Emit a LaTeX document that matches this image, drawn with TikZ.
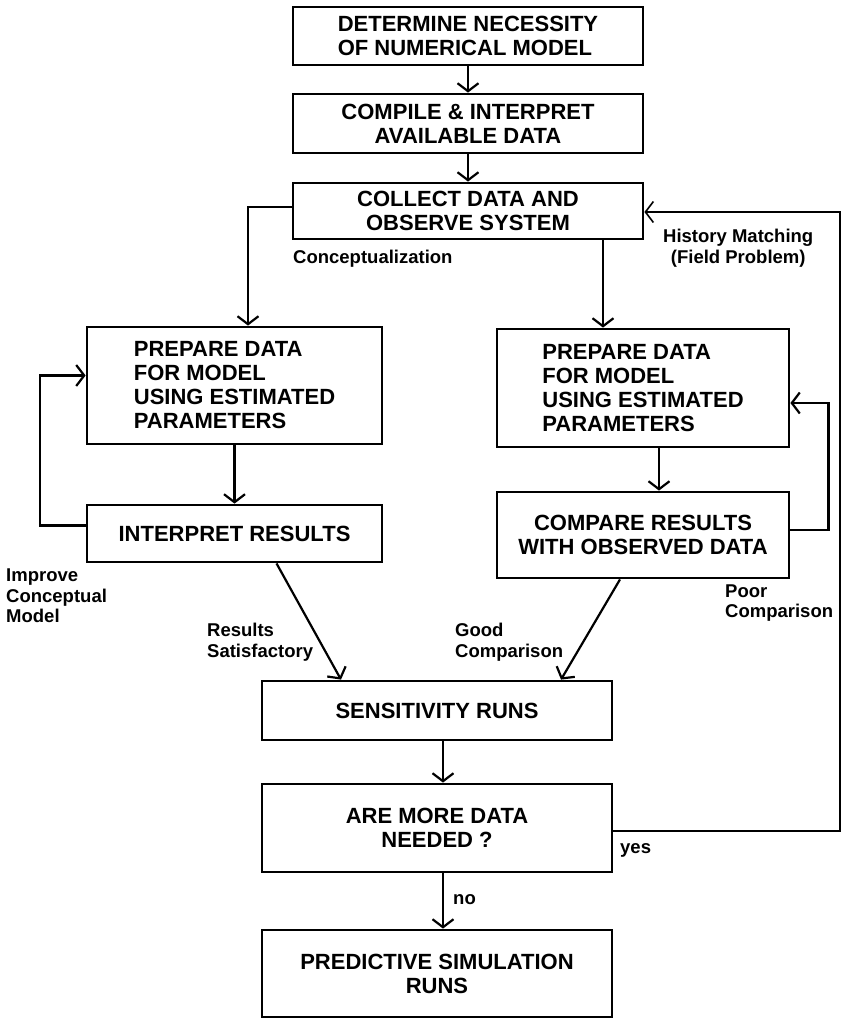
\documentclass[tikz,border=0pt]{standalone}
\usepackage{fontspec}
\setmainfont{Liberation Sans}
\usetikzlibrary{arrows.meta, positioning}

\begin{document}
\begin{tikzpicture}[x=1pt, y=-1pt,
  box/.style={draw, line width=2.8pt, inner sep=0pt, font=\bfseries\fontsize{22}{24}\selectfont},
  lbl/.style={inner sep=0pt, anchor=west, align=left, font=\bfseries\fontsize{18.5}{20.5}\selectfont},
  arr/.style={line width=2.2pt, -{Straight Barb[length=8pt, width=21pt]}}]
  \useasboundingbox (0,0) rectangle (842,1019);

  % main column
  \node[box, minimum width=350pt, minimum height=58pt, align=left] (need) at (468,36) {DETERMINE NECESSITY\\OF NUMERICAL MODEL};
  \node[box, minimum width=350pt, minimum height=59pt, align=center] (compile) at (468,123.5) {COMPILE \& INTERPRET\\AVAILABLE DATA};
  \node[box, minimum width=350pt, minimum height=56pt, align=center] (collect) at (468,211) {COLLECT DATA AND\\OBSERVE SYSTEM};

  % left branch
  \node[box, minimum width=295pt, minimum height=117pt, align=left] (prepL) at (234.5,385.5) {PREPARE DATA\\FOR MODEL\\USING ESTIMATED\\PARAMETERS};
  \node[box, minimum width=295pt, minimum height=57pt] (interp) at (234.5,533.5) {INTERPRET RESULTS};

  % right branch
  \node[box, minimum width=292pt, minimum height=118pt, align=left] (prepR) at (643,388) {PREPARE DATA\\FOR MODEL\\USING ESTIMATED\\PARAMETERS};
  \node[box, minimum width=292pt, minimum height=86pt, align=center] (compare) at (643,535) {COMPARE RESULTS\\WITH OBSERVED DATA};

  % bottom column
  \node[box, minimum width=350pt, minimum height=59pt] (sens) at (437,710.5) {SENSITIVITY RUNS};
  \node[box, minimum width=350pt, minimum height=88pt, align=center] (more) at (437,828) {ARE MORE DATA\\NEEDED ?};
  \node[box, minimum width=350pt, minimum height=87pt, align=center] (predict) at (437,973.5) {PREDICTIVE SIMULATION\\RUNS};

  % labels
  \node[lbl] (concept) at (293,259) {Conceptualization};
  \node[lbl, align=center] (history) at (663,248) {History Matching\\(Field Problem)};
  \node[lbl] (improve) at (6,596) {Improve\\Conceptual\\Model};
  \node[lbl] (satis) at (207,642) {Results\\Satisfactory};
  \node[lbl] (good) at (455,642) {Good\\Comparison};
  \node[lbl] (poor) at (725,603) {Poor\\Comparison};
  \node[lbl] (yes) at (620,850) {yes};
  \node[lbl] (no) at (453,900) {no};

  % connectors
  \draw[arr] (need) -- (compile);
  \draw[arr] (compile) -- (collect);
  \draw[arr] ([yshift=4pt]collect.west) -| ([xshift=13.5pt]prepL.north);
  \draw[arr] ([xshift=-40pt]prepR.north |- collect.south) -- ([xshift=-40pt]prepR.north);
  \draw[arr] (prepL) -- (interp);
  \draw[arr] ([yshift=8pt]interp.west) -- ++(-46,0) |- ([yshift=10pt]prepL.west);
  \draw[arr] ([xshift=16pt]prepR.south) -- ([xshift=16pt]compare.north);
  \draw[arr] ([yshift=5pt]compare.east) -- ++(38,0) |- ([yshift=-15pt]prepR.east);
  \draw[arr] ([xshift=42pt]interp.south) -- ([xshift=-96pt]sens.north);
  \draw[arr] ([xshift=-23pt]compare.south) -- ([xshift=124pt]sens.north);
  \draw[arr] ([xshift=6pt]sens.south) -- ([xshift=6pt]more.north);
  \draw[arr] ([xshift=6pt]more.south) -- ([xshift=6pt]predict.north);

  % more data loop
  \coordinate (edge) at (840,212);
  \draw[arr, line width=1.6pt] ([yshift=-3pt]more.east) -| (edge) -- (collect.east |- edge);
\end{tikzpicture}
\end{document}
